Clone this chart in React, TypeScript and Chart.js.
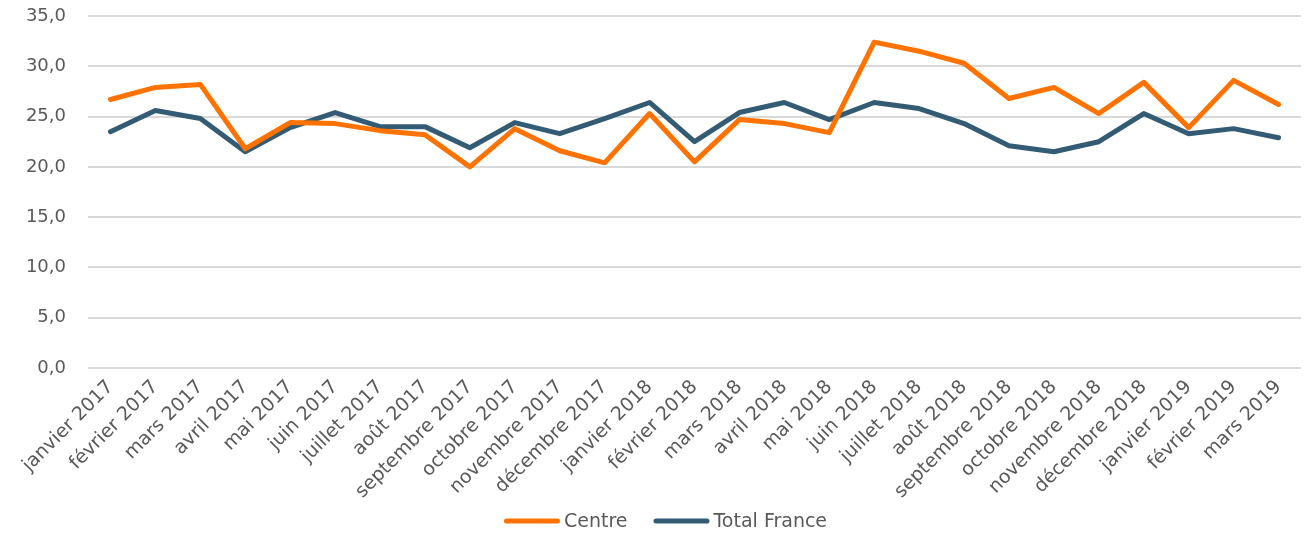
import React, { useEffect, useRef } from "react";
import { Chart, registerables } from "chart.js";

Chart.register(...registerables);

const months: string[] = [
  "janvier 2017", "février 2017", "mars 2017", "avril 2017", "mai 2017", "juin 2017",
  "juillet 2017", "août 2017", "septembre 2017", "octobre 2017", "novembre 2017", "décembre 2017",
  "janvier 2018", "février 2018", "mars 2018", "avril 2018", "mai 2018", "juin 2018",
  "juillet 2018", "août 2018", "septembre 2018", "octobre 2018", "novembre 2018", "décembre 2018",
  "janvier 2019", "février 2019", "mars 2019",
];

const centre: number[] = [
  26.7, 27.9, 28.2, 21.8, 24.4, 24.3, 23.6, 23.2, 20.0, 23.8, 21.6, 20.4,
  25.3, 20.5, 24.7, 24.3, 23.4, 32.4, 31.5, 30.3, 26.8, 27.9, 25.3, 28.4,
  23.9, 28.6, 26.2,
];

const totalFrance: number[] = [
  23.5, 25.6, 24.8, 21.5, 23.9, 25.4, 24.0, 24.0, 21.9, 24.4, 23.3, 24.8,
  26.4, 22.5, 25.4, 26.4, 24.7, 26.4, 25.8, 24.3, 22.1, 21.5, 22.5, 25.3,
  23.3, 23.8, 22.9,
];

const FONT = "'DejaVu Sans', sans-serif";
const TEXT = "#595959";

const lineLegend = {
  id: "lineLegend",
  afterDraw(chart: any) {
    const ctx = chart.ctx;
    const fontSize = 19;
    const lineLen = 56;
    const gap = 4;
    const itemGap = 26;
    const y = 521;
    ctx.save();
    ctx.font = `${fontSize}px ${FONT}`;
    const items = chart.data.datasets.map((ds: any) => ({
      label: ds.label as string,
      color: ds.borderColor as string,
      tw: ctx.measureText(ds.label).width,
    }));
    const total =
      items.reduce((s: number, it: any) => s + lineLen + gap + it.tw, 0) + itemGap * (items.length - 1);
    let x = chart.width / 2 + 12 - total / 2;
    for (const it of items) {
      ctx.strokeStyle = it.color;
      ctx.lineWidth = 5;
      ctx.lineCap = "round";
      ctx.beginPath();
      ctx.moveTo(x + 2.5, y);
      ctx.lineTo(x + lineLen - 2.5, y);
      ctx.stroke();
      ctx.fillStyle = TEXT;
      ctx.textAlign = "left";
      ctx.textBaseline = "middle";
      ctx.fillText(it.label, x + lineLen + gap, y + 1);
      x += lineLen + gap + it.tw + itemGap;
    }
    ctx.restore();
  },
};

export default function App() {
  const ref = useRef<HTMLCanvasElement | null>(null);

  useEffect(() => {
    if (!ref.current) return;
    const chart = new Chart(ref.current, {
      type: "line",
      data: {
        labels: months,
        datasets: [
          {
            label: "Centre",
            data: centre,
            borderColor: "#FF7200",
            backgroundColor: "#FF7200",
            borderWidth: 5,
            pointRadius: 0,
            tension: 0,
            borderJoinStyle: "round",
            borderCapStyle: "round",
          },
          {
            label: "Total France",
            data: totalFrance,
            borderColor: "#335C74",
            backgroundColor: "#335C74",
            borderWidth: 5,
            pointRadius: 0,
            tension: 0,
            borderJoinStyle: "round",
            borderCapStyle: "round",
          },
        ],
      },
      options: {
        animation: false,
        responsive: false,
        maintainAspectRatio: false,
        layout: { padding: { left: 0, right: 6, top: 16, bottom: 22 } },
        plugins: {
          tooltip: { enabled: false },
          legend: { display: false },
        },
        scales: {
          x: {
            offset: true,
            grid: { display: false, drawTicks: false },
            border: { display: false },
            afterFit: (axis: any) => {
              axis.height = 144;
            },
            ticks: {
              autoSkip: false,
              maxRotation: 45,
              minRotation: 45,
              padding: 8,
              color: TEXT,
              font: { family: FONT, size: 19 },
            },
          },
          y: {
            min: 0,
            max: 35,
            afterFit: (axis: any) => {
              axis.width = 88;
            },
            grid: {
              color: "#D9D9D9",
              lineWidth: 2,
              drawTicks: true,
              tickLength: 22,
              tickColor: "rgba(0,0,0,0)",
            },
            border: { display: false },
            ticks: {
              stepSize: 5,
              padding: 0,
              color: TEXT,
              font: { family: FONT, size: 18 },
              callback: (v: any) => Number(v).toFixed(1).replace(".", ","),
            },
          },
        },
      },
      plugins: [lineLegend],
    });
    return () => chart.destroy();
  }, []);

  return (
    <div style={{ position: "fixed", left: 0, top: 0, width: 1307, height: 534, background: "#fff" }}>
      <canvas ref={ref} width={1307} height={534} />
    </div>
  );
}
